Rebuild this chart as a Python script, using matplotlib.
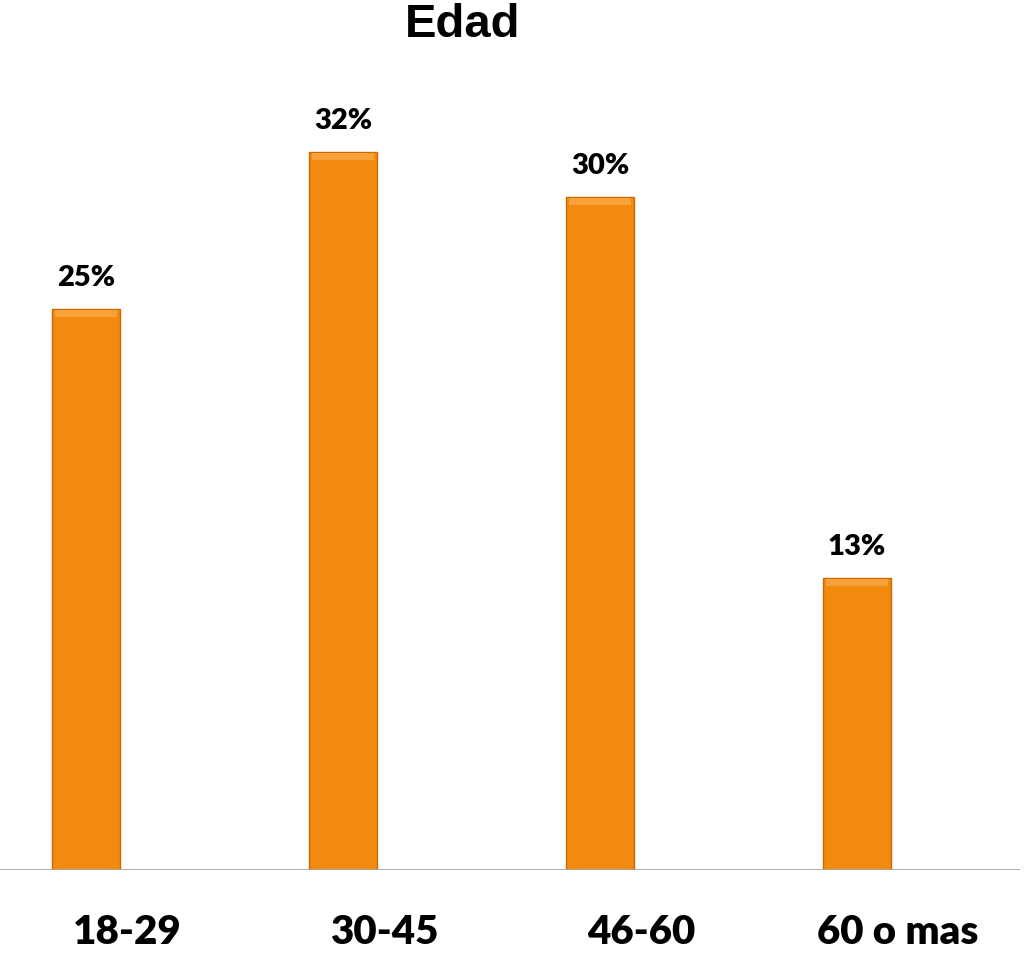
import matplotlib.pyplot as plt
import matplotlib.transforms as mtransforms

# datos del grafico
categorias = ["18-29", "30-45", "46-60", "60 o mas"]
valores = [25, 32, 30, 13]
etiquetas = ["25%", "32%", "30%", "13%"]
titulo = "Edad"

naranja = "#F38A10"
borde = "#C96A06"
brillo = "#F8A03A"

fig = plt.figure(figsize=(10.25, 9.55), dpi=100)
# ejes: base en y=870 px, ancho casi completo
ax = fig.add_axes([0.0, 85 / 955, 1020 / 1025, 770 / 955])

x = list(range(len(categorias)))
ax.bar(x, valores, width=0.265, color=naranja, edgecolor=borde, linewidth=1.0, zorder=2)
# bisel claro arriba de cada barra
ax.bar(x, [0.3] * len(x), bottom=[v - 0.35 for v in valores], width=0.24,
       color=brillo, linewidth=0, zorder=3)

ax.set_xlim(-0.335, 3.634)
ax.set_ylim(0, 34.31)
ax.axis("off")
ax.axhline(0, color="#A6A6A6", linewidth=2, zorder=4)

# etiquetas de valor sobre las barras
for xi, v, t in zip(x, valores, etiquetas):
    ax.annotate(t, (xi, v), xytext=(0, 13), textcoords="offset points",
                ha="center", va="bottom", fontsize=21, fontweight="heavy",
                family="Lato", color="black")

# categorias bajo el eje (desplazadas a la derecha como en el original)
trans = mtransforms.blended_transform_factory(ax.transData, fig.transFigure)
for xi, c in zip(x, categorias):
    ax.text(xi + 0.16, 0.024, c, transform=trans, ha="center", va="center",
            fontsize=29, fontweight="heavy", family="Lato", color="black")

fig.text(0.451, 0.997, titulo, ha="center", va="top", fontsize=34,
         fontweight="bold", family="Liberation Sans")

fig.savefig("out.png", dpi=100)
